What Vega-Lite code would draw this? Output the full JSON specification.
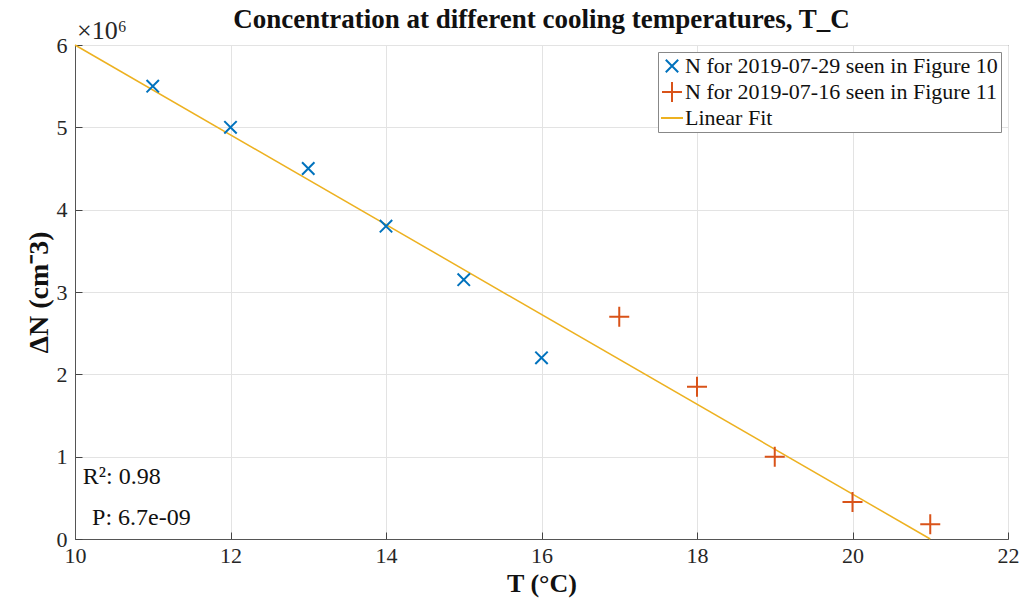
{
  "$schema": "https://vega.github.io/schema/vega-lite/v6.json",
  "autosize": "none",
  "width": 933,
  "height": 494,
  "padding": {"left": 75, "top": 45, "right": 15, "bottom": 64},
  "background": "white",
  "config": {
    "font": "Liberation Serif",
    "view": {"stroke": "#555555", "strokeWidth": 1},
    "axis": {
      "labelFont": "Liberation Serif",
      "titleFont": "Liberation Serif",
      "labelFontSize": 22,
      "labelColor": "#262626",
      "titleColor": "#111111",
      "titleFontSize": 26,
      "titleFontWeight": "bold",
      "gridColor": "#e3e3e3",
      "gridWidth": 1,
      "domainColor": "#555555",
      "tickColor": "#444444",
      "ticks": true,
      "tickSize": -7
    }
  },
  "title": {
    "text": "Concentration at different cooling temperatures, T_C",
    "font": "Liberation Serif",
    "fontSize": 27,
    "fontWeight": "bold",
    "color": "#111111",
    "anchor": "middle",
    "offset": -16
  },
  "datasets": {
    "points": [
      {"T": 11, "N": 5.5, "series": "N for 2019-07-29 seen in Figure 10"},
      {"T": 12, "N": 5.0, "series": "N for 2019-07-29 seen in Figure 10"},
      {"T": 13, "N": 4.5, "series": "N for 2019-07-29 seen in Figure 10"},
      {"T": 14, "N": 3.8, "series": "N for 2019-07-29 seen in Figure 10"},
      {"T": 15, "N": 3.15, "series": "N for 2019-07-29 seen in Figure 10"},
      {"T": 16, "N": 2.2, "series": "N for 2019-07-29 seen in Figure 10"},
      {"T": 17, "N": 2.7, "series": "N for 2019-07-16 seen in Figure 11"},
      {"T": 18, "N": 1.85, "series": "N for 2019-07-16 seen in Figure 11"},
      {"T": 19, "N": 1.0, "series": "N for 2019-07-16 seen in Figure 11"},
      {"T": 20, "N": 0.45, "series": "N for 2019-07-16 seen in Figure 11"},
      {"T": 21, "N": 0.18, "series": "N for 2019-07-16 seen in Figure 11"}
    ],
    "fit": [
      {"T": 10, "N": 6.0},
      {"T": 21, "N": 0.0}
    ],
    "notes": [
      {"T": 10.1, "N": 0.75, "label": "R²: 0.98"},
      {"T": 10.22, "N": 0.25, "label": "P: 6.7e-09"}
    ],
    "exp": [
      {"T": 10, "N": 6, "label": "×10⁶"}
    ]
  },
  "layer": [
    {
      "data": {"name": "fit"},
      "mark": {"type": "line", "color": "#EDB120", "strokeWidth": 1.5},
      "encoding": {
        "x": {"field": "T", "type": "quantitative", "scale": {"domain": [10, 22], "nice": false, "zero": false}, "axis": {"values": [10, 12, 14, 16, 18, 20, 22], "format": "d", "title": "T (°C)", "labelPadding": 13, "titleY": 44, "titleBaseline": "middle", "labelFlush": false}},
        "y": {"field": "N", "type": "quantitative", "scale": {"domain": [0, 6], "nice": false}, "axis": {"values": [0, 1, 2, 3, 4, 5, 6], "format": "d", "title": "ΔN  (cm⁻3)", "titleFontSize": 28, "labelPadding": 15, "titleX": -36, "titleBaseline": "middle", "labelFlush": false}}
      }
    },
    {
      "data": {"name": "points"},
      "mark": {"type": "point", "filled": false, "strokeWidth": 2, "size": 400, "opacity": 1},
      "encoding": {
        "x": {"field": "T", "type": "quantitative"},
        "y": {"field": "N", "type": "quantitative"},
        "color": {
          "field": "series", "type": "nominal",
          "scale": {"domain": ["N for 2019-07-29 seen in Figure 10", "N for 2019-07-16 seen in Figure 11", "Linear Fit"], "range": ["#0072BD", "#D95319", "#EDB120"]},
          "legend": {
            "title": null,
            "orient": "top-right",
            "offset": 7,
            "padding": 3,
            "strokeColor": "#888888",
            "fillColor": "white",
            "labelFont": "Liberation Serif",
            "labelFontSize": 22,
            "labelColor": "#111111",
            "symbolSize": 400,
            "symbolStrokeWidth": 2,
            "rowPadding": 1,
            "labelOffset": 2,
            "labelLimit": 400
          }
        },
        "shape": {
          "field": "series", "type": "nominal",
          "scale": {"domain": ["N for 2019-07-29 seen in Figure 10", "N for 2019-07-16 seen in Figure 11", "Linear Fit"], "range": ["M-0.62,-0.62L0.62,0.62M-0.62,0.62L0.62,-0.62", "M-1,0L1,0M0,-1L0,1", "M-1.1,0L1.1,0"]}
        }
      }
    },
    {
      "data": {"name": "notes"},
      "mark": {"type": "text", "align": "left", "baseline": "middle", "fontSize": 24, "font": "Liberation Serif", "color": "#111111"},
      "encoding": {
        "x": {"field": "T", "type": "quantitative"},
        "y": {"field": "N", "type": "quantitative"},
        "text": {"field": "label"}
      }
    },
    {
      "data": {"name": "exp"},
      "mark": {"type": "text", "align": "left", "baseline": "bottom", "dy": -1, "dx": 2, "fontSize": 26, "font": "Liberation Serif", "color": "#262626"},
      "encoding": {
        "x": {"field": "T", "type": "quantitative"},
        "y": {"field": "N", "type": "quantitative"},
        "text": {"field": "label"}
      }
    }
  ]
}
